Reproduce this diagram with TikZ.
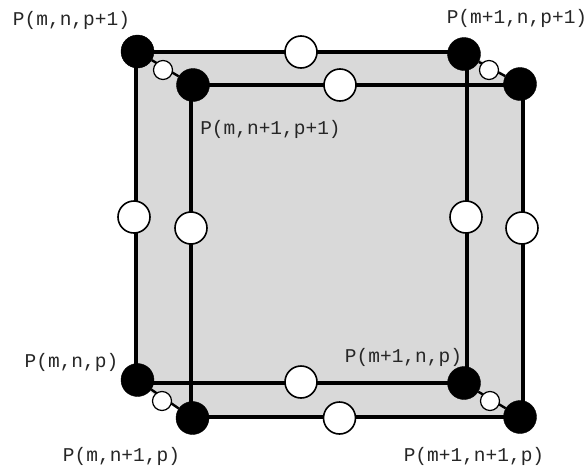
\documentclass[tikz,border=0pt]{standalone}
\usepackage{fontspec}
\setmonofont{Liberation Mono}
\begin{document}
\begin{tikzpicture}[x=1pt,y=-1pt,
  corner/.style={circle,fill=black,draw=black,inner sep=0pt,minimum size=33pt},
  mid/.style={circle,fill=white,draw=black,line width=1.6pt,inner sep=0pt,minimum size=32pt},
  small/.style={circle,fill=white,draw=black,line width=1.2pt,inner sep=0pt,minimum size=19pt},
  edge/.style={draw=black,line width=3.6pt},
  thinedge/.style={draw=black,line width=2.4pt},
  lab/.style={font=\ttfamily\fontsize{19.5}{20}\selectfont,inner sep=0pt,text=black!85}]
\useasboundingbox (0,0) rectangle (587,469);
% junctions where the edges of the two squares meet
\coordinate (A) at (136,52);
\coordinate (B) at (467,52);
\coordinate (C) at (136,383);
\coordinate (D) at (467,383);
\coordinate (E) at (191,85);
\coordinate (F) at (523,85);
\coordinate (G) at (191,417);
\coordinate (H) at (523,417);
\fill[black!15] (A) -- (B) -- (F) -- (H) -- (G) -- (C) -- cycle;
\draw[edge] (A) -- (B);
\draw[edge] (A) -- (C);
\draw[edge] (B) -- (D);
\draw[edge] (C) -- (D);
\draw[edge] (E) -- (F);
\draw[edge] (E) -- (G);
\draw[edge] (F) -- (H);
\draw[edge] (G) -- (H);
\node[corner] (a) at (137.5,51.5) {};
\node[corner] (b) at (464,54) {};
\node[corner] (c) at (137.5,380) {};
\node[corner] (d) at (464,383) {};
\node[corner] (e) at (193,85) {};
\node[corner] (f) at (520,84) {};
\node[corner] (g) at (192.5,418) {};
\node[corner] (h) at (520,417) {};
\draw[thinedge] (a) -- (e);
\draw[thinedge] (b) -- (f);
\draw[thinedge] (c) -- (g);
\draw[thinedge] (d) -- (h);
\node[mid] (m1) at (301,52) {};
\node[mid] (m2) at (340,85) {};
\node[mid] (m3) at (134,217) {};
\node[mid] (m4) at (191,228) {};
\node[mid] (m5) at (466,217) {};
\node[mid] (m6) at (522,228) {};
\node[mid] (m7) at (301,382) {};
\node[mid] (m8) at (339.5,418) {};
\node[small] (s1) at (163,70) {};
\node[small] (s2) at (489,70) {};
\node[small] (s3) at (162,401) {};
\node[small] (s4) at (490,401) {};
\node[lab] (l1) at (71.5,20.5) {P(m,n,p+1)};
\node[lab] (l2) at (517,18.5) {P(m+1,n,p+1)};
\node[lab] (l3) at (270.5,129.5) {P(m,n+1,p+1)};
\node[lab] (l4) at (71.5,362) {P(m,n,p)};
\node[lab] (l5) at (403.5,357) {P(m+1,n,p)};
\node[lab] (l6) at (121.5,456) {P(m,n+1,p)};
\node[lab] (l7) at (474,456) {P(m+1,n+1,p)};
\end{tikzpicture}
\end{document}
